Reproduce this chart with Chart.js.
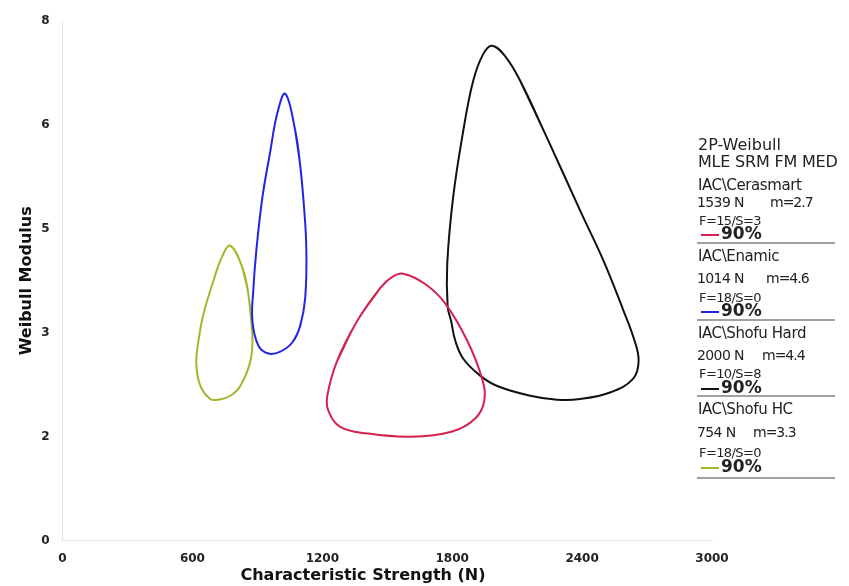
<!DOCTYPE html>
<html>
<head>
<meta charset="utf-8">
<script src="https://cdn.jsdelivr.net/npm/chart.js@4.4.1/dist/chart.umd.min.js"></script>
<style>
  body { margin: 0; background: #fff; }
  #wrap { position: relative; width: 849px; height: 586px; }
  #info { position: absolute; left: 0; top: 0; width: 849px; height: 586px; pointer-events: none;
    font-family: "DejaVu Sans", Verdana, sans-serif; color: #222; }
  #info div { position: absolute; white-space: pre; transform: translateY(-50%); line-height: 1; }
  .sep { height: 0; border-top: 1.5px solid #444; width: 138px; }
  .key { height: 0; width: 18px; border-top: 2px solid; }
</style>
</head>
<body>
<div id="wrap">
  <canvas id="chart" width="849" height="586"></canvas>
  <div id="info"></div>
</div>
<script>
// 90% contours (each loop starts on a straight side)
const cerasmartX = [1361, 1468, 1523, 1574, 1675, 1768, 1869, 1938, 1948, 1906, 1800, 1606, 1408, 1283, 1228, 1223, 1269, 1361];
const cerasmartY = [3.38, 3.89, 4.06, 4.11, 3.95, 3.65, 3.08, 2.49, 2.15, 1.88, 1.68, 1.60, 1.65, 1.75, 2.00, 2.23, 2.77, 3.38];

const enamicX = [1098, 1112, 1126, 1121, 1098, 1061, 1006, 951, 905, 877, 881, 895, 923, 960, 992, 1029, 1075, 1098];
const enamicY = [5.77, 5.28, 4.51, 3.74, 3.31, 3.05, 2.91, 2.88, 3.00, 3.38, 3.85, 4.46, 5.28, 6.00, 6.58, 6.88, 6.31, 5.77];

const shofuHardX = [2238, 2391, 2500, 2590, 2640, 2661, 2635, 2529, 2391, 2284, 2160, 2008, 1929, 1851, 1814, 1795, 1779, 1777, 1804, 1851, 1897, 1943, 1984, 2044, 2114, 2238];
const shofuHardY = [6.20, 5.08, 4.30, 3.55, 3.10, 2.77, 2.49, 2.28, 2.18, 2.17, 2.23, 2.38, 2.54, 2.80, 3.08, 3.38, 3.60, 4.26, 5.28, 6.31, 7.08, 7.49, 7.62, 7.46, 7.08, 6.20];

const shofuHcX = [858, 877, 868, 821, 775, 720, 683, 637, 618, 628, 651, 697, 738, 775, 831, 858];
const shofuHcY = [3.80, 3.18, 2.77, 2.38, 2.23, 2.17, 2.18, 2.38, 2.72, 3.08, 3.49, 4.00, 4.38, 4.54, 4.20, 3.80];

// legend panel
const names = ['IAC\\Cerasmart', 'IAC\\Enamic', 'IAC\\Shofu Hard', 'IAC\\Shofu HC'];
const strengths = ['1539 N', '1014 N', '2000 N', '754 N'];
const moduli = ['m=2.7', 'm=4.6', 'm=4.4', 'm=3.3'];
const counts = ['F=15/S=3', 'F=18/S=0', 'F=10/S=8', 'F=18/S=0'];
const colors = ['#d6204f', '#2323e8', '#111111', '#a3b62c'];

const xTicks = [0, 600, 1200, 1800, 2400, 3000];
const yMax = 8;
const yStep = 1.6;

// closed loop: wrap one point on each side so the spline has no corner where it closes
function loop(xs, ys) {
  const p = xs.map((x, i) => ({ x: x, y: ys[i] }));
  const n = p.length;
  return [p[n - 2]].concat(p, [p[1]]);
}

const series = [
  loop(cerasmartX, cerasmartY),
  loop(enamicX, enamicY),
  loop(shofuHardX, shofuHardY),
  loop(shofuHcX, shofuHcY),
];

const ctx = document.getElementById('chart').getContext('2d');
const myChart = new Chart(ctx, {
  type: 'scatter',
  data: {
    datasets: series.map((d, i) => ({
      label: names[i],
      data: d,
      showLine: true,
      borderColor: colors[i],
      borderWidth: 2,
      pointRadius: 0,
      tension: 0.4,
      fill: false,
    })),
  },
  options: {
    responsive: false,
    animation: false,
    layout: { padding: { top: 21, right: 137, left: 17, bottom: 17 } },
    plugins: { legend: { display: false }, tooltip: { enabled: false } },
    scales: {
      x: {
        type: 'linear',
        min: xTicks[0],
        max: xTicks[xTicks.length - 1],
        afterBuildTicks: (axis) => { axis.ticks = xTicks.map((v) => ({ value: v })); },
        grid: { display: false },
        border: { color: '#e4e4e4' },
        ticks: {
          color: '#222',
          font: { family: 'DejaVu Sans', size: 12, weight: 'bold' },
          padding: 3,
          callback: (v) => String(v),
        },
      },
      y: {
        min: 0,
        max: yMax,
        grid: { display: false },
        border: { color: '#e4e4e4' },
        ticks: {
          stepSize: yStep,
          color: '#222',
          padding: 5,
          font: { family: 'DejaVu Sans', size: 12, weight: 'bold' },
          callback: (v) => Math.round(v),
        },
        title: {
          display: true,
          text: 'Weibull Modulus',
          color: '#111',
          font: { family: 'DejaVu Sans', size: 16, weight: 'bold' },
          padding: { top: 0, bottom: 0 },
        },
      },
    },
  },
});

// text overlays
const info = document.getElementById('info');
function put(text, x, y, style) {
  const d = document.createElement('div');
  d.textContent = text;
  d.style.left = x + 'px';
  d.style.top = y + 'px';
  Object.assign(d.style, style || {});
  info.appendChild(d);
  return d;
}

const xt = put('Characteristic Strength (N)', 363, 575, { fontSize: '16px', fontWeight: 'bold', color: '#111' });
xt.style.transform = 'translate(-50%, -50%)';

put('2P-Weibull', 698, 145, { fontSize: '16px' });
put('MLE SRM FM MED', 698, 162, { fontSize: '16px', letterSpacing: '-0.2px' });

const nameRow = [185, 256, 333, 409];
const strRow = [202, 278, 355, 432];
const cntRow = [220, 297, 373, 452];
const pctRow = [233, 310, 387, 466];
const sepRow = [243, 320, 396, 478];
const mLeft = [770, 766, 762, 753];

names.forEach((n, i) => {
  put(n, 698, nameRow[i], { fontSize: '15px', letterSpacing: '-0.4px' });
  put(strengths[i], 697, strRow[i], { fontSize: '14px', letterSpacing: '-0.6px' });
  put(moduli[i], mLeft[i], strRow[i], { fontSize: '14px', letterSpacing: '-1px' });
  put(counts[i], 699, cntRow[i], { fontSize: '13px', letterSpacing: '-0.6px' });
  const k = put('', 701, pctRow[i] + 2, {});
  k.className = 'key';
  k.style.borderColor = colors[i];
  put('90%', 721, pctRow[i], { fontSize: '17px', fontWeight: 'bold' });
  const s = put('', 697, sepRow[i], {});
  s.className = 'sep';
});
</script>
</body>
</html>
